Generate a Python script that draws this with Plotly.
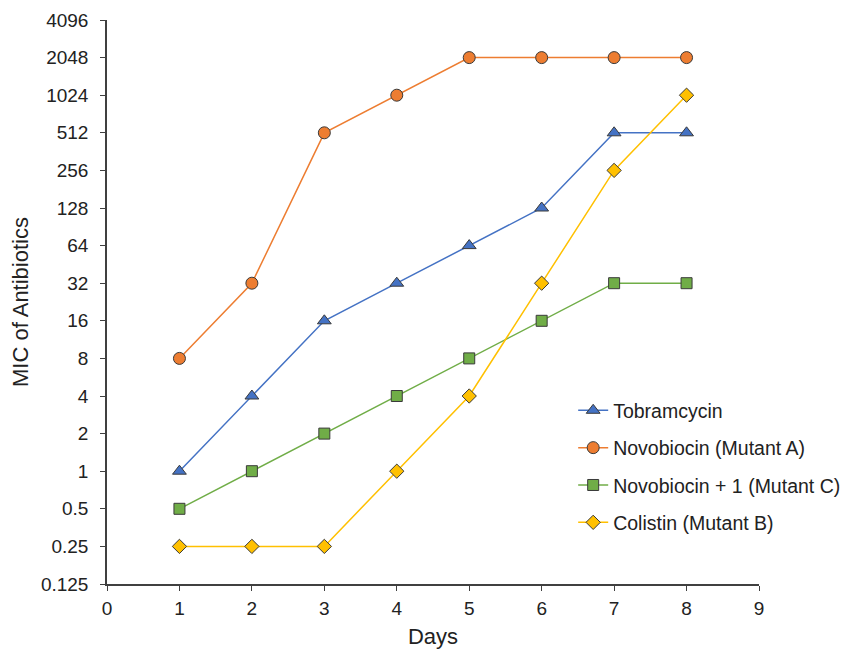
import plotly.graph_objects as go

days = [1, 2, 3, 4, 5, 6, 7, 8]
tobramycin = [1, 4, 16, 32, 64, 128, 512, 512]
novobiocin_a = [8, 32, 512, 1024, 2048, 2048, 2048, 2048]
novobiocin_c = [0.5, 1, 2, 4, 8, 16, 32, 32]
colistin_b = [0.25, 0.25, 0.25, 1, 4, 32, 256, 1024]
y_ticks = [0.125, 0.25, 0.5, 1, 2, 4, 8, 16, 32, 64, 128, 256, 512, 1024, 2048, 4096]
y_tick_labels = ["0.125", "0.25", "0.5", "1", "2", "4", "8", "16", "32", "64", "128", "256", "512", "1024", "2048", "4096"]
x_ticks = list(range(0, 10))

series = [
    ("Tobramcycin", tobramycin, "#4472C4", "#4472C4", "triangle-up", 12),
    ("Novobiocin (Mutant A)", novobiocin_a, "#ED7D31", "#ED7D31", "circle", 12),
    ("Novobiocin + 1 (Mutant C)", novobiocin_c, "#70AD47", "#70AD47", "square", 11),
    ("Colistin (Mutant B)", colistin_b, "#FFC000", "#FFC000", "diamond", 11),
]

fig = go.Figure()
for name, vals, lc, mc, sym, sz in series:
    fig.add_trace(go.Scatter(
        x=days, y=vals, name=name, mode="lines+markers", legendgroup=name,
        line=dict(color=lc, width=1.5),
        marker=dict(symbol=sym, size=sz, color=mc, line=dict(color="#3a3a3a", width=1)),
    ))

fig.update_layout(
    width=856, height=654,
    margin=dict(l=99, r=105, t=12, b=78),
    paper_bgcolor="white", plot_bgcolor="white",
    font=dict(family="Liberation Sans, Arial, sans-serif", size=19, color="#222222"),
    showlegend=True,
    legend=dict(x=0.715, y=0.342, xanchor="left", yanchor="top",
                font=dict(size=19.5), bgcolor="rgba(0,0,0,0)", tracegroupgap=9),
)
fig.update_xaxes(
    range=[0, 9], tickvals=x_ticks, ticks="outside", ticklen=5, tickcolor="#404040",
    tickfont=dict(size=19), ticklabelstandoff=1, automargin=False,
    showline=True, linecolor="#404040", linewidth=1.5, showgrid=False, zeroline=False,
    title=dict(text="Days", font=dict(size=22), standoff=11),
)
fig.update_yaxes(
    type="log", range=[-0.90309, 3.61236], tickvals=y_ticks, ticktext=y_tick_labels,
    ticks="outside", ticklen=5, tickcolor="#404040",
    tickfont=dict(size=19), ticklabelstandoff=8, automargin=False,
    showline=True, linecolor="#404040", linewidth=1.5, showgrid=False, zeroline=False,
    title=dict(text="MIC of Antibiotics", font=dict(size=22), standoff=6),
)

fig.write_html("out.html")
